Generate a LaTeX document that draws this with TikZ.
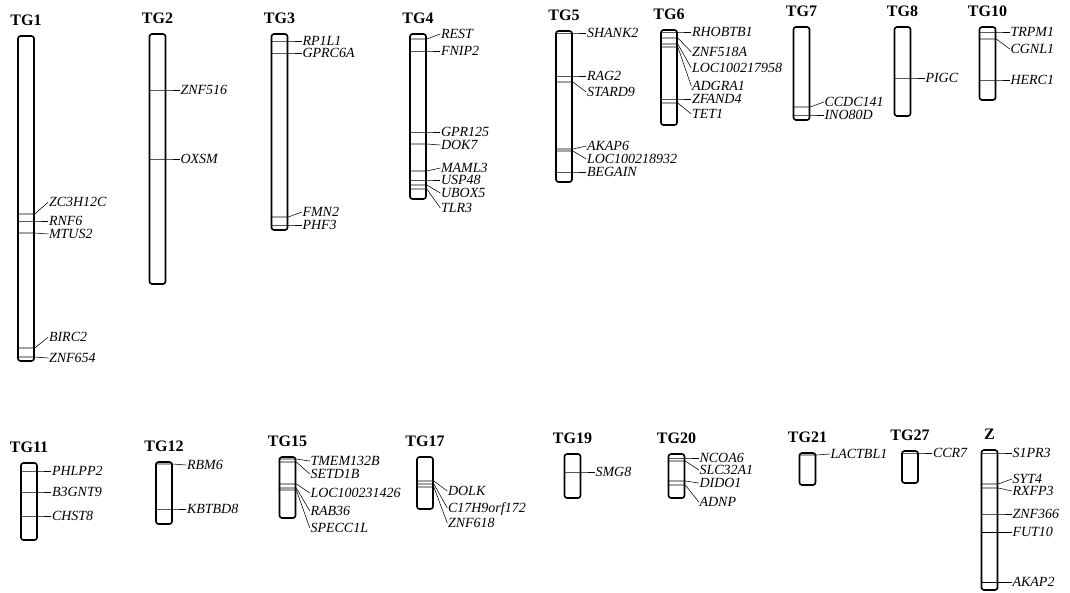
\documentclass[tikz,border=0pt]{standalone}
\usepackage{fontspec}
\setmainfont{Liberation Serif}
\usepackage{tikz}
\usetikzlibrary{positioning}

% band lines and gene labels of one chromosome
\newcommand{\genemarks}[2]{%
  \foreach \b/\l/\g in {#2}{%
    \node[gene, xshift=13.5pt] (#1-\g) at (#1.east |- 0,\l) {\g};
    \draw[band] (#1.west |- 0,\b) -- (#1.east |- 0,\b) -- (#1-\g.west);
  }}

\begin{document}
\begin{tikzpicture}[x=1pt, y=-1pt]
        \tikzset{chrom/.style={draw, line width=1.6pt, rounded corners=2.5pt, minimum width=16pt, inner sep=0pt}}
        \tikzset{band/.style={line width=0.55pt}}
        \tikzset{gene/.style={font=\fontsize{14}{14}\selectfont\itshape, inner sep=0.5pt, text height=9.3pt, text depth=0pt, anchor=west}}
        \tikzset{chrtitle/.style={font=\fontsize{16}{16}\selectfont\bfseries, inner sep=0pt, text depth=0pt}}

        \useasboundingbox (0,0) rectangle (1070,592);

        % upper row
        \node[chrom, minimum height=325pt] (tg1) at (26,198.5) {};
        \node[chrom, minimum height=250pt] (tg2) at (157.5,159) {};
        \node[chrom, minimum height=196pt] (tg3) at (279.5,132) {};
        \node[chrom, minimum height=165pt] (tg4) at (418,116.5) {};
        \node[chrom, minimum height=151pt] (tg5) at (564,106.5) {};
        \node[chrom, minimum height=95pt] (tg6) at (669,77.5) {};
        \node[chrom, minimum height=93pt] (tg7) at (801.5,73.5) {};
        \node[chrom, minimum height=89pt] (tg8) at (902.5,71.5) {};
        \node[chrom, minimum height=73pt] (tg10) at (987.5,63.5) {};

        % lower row
        \node[chrom, minimum height=77pt] (tg11) at (29,501.5) {};
        \node[chrom, minimum height=62pt] (tg12) at (164,493) {};
        \node[chrom, minimum height=61pt] (tg15) at (287.5,487.5) {};
        \node[chrom, minimum height=52pt] (tg17) at (425,483) {};
        \node[chrom, minimum height=44pt] (tg19) at (572.5,476) {};
        \node[chrom, minimum height=44pt] (tg20) at (676.5,476) {};
        \node[chrom, minimum height=32pt] (tg21) at (807.5,469) {};
        \node[chrom, minimum height=32pt] (tg27) at (910,467) {};
        \node[chrom, minimum height=140pt] (z) at (989.5,520) {};

        \foreach \c/\t in {tg1/TG1, tg2/TG2, tg3/TG3, tg4/TG4, tg5/TG5, tg6/TG6, tg7/TG7, tg8/TG8, tg10/TG10,
                           tg11/TG11, tg12/TG12, tg15/TG15, tg17/TG17, tg19/TG19, tg20/TG20, tg21/TG21, tg27/TG27, z/Z}
            \node[chrtitle, above=9.5pt of \c] (\c-title) {\t};

        \genemarks{tg1}{214/202/ZC3H12C, 221/221/RNF6, 233/234/MTUS2, 348/337/BIRC2, 357/358/ZNF654}
        \genemarks{tg2}{90/90/ZNF516, 159/159/OXSM}
        \genemarks{tg3}{41/41/RP1L1, 53/53/GPRC6A, 217/212/FMN2, 225/225/PHF3}
        \genemarks{tg4}{39/34/REST, 51/51/FNIP2, 132/132/GPR125, 144/145/DOK7, 171/168/MAML3, 180/180/USP48, 185/193/UBOX5, 189/208/TLR3}
        \genemarks{tg5}{33/33/SHANK2, 76/76/RAG2, 82/92/STARD9, 149/146/AKAP6, 151/159/LOC100218932, 172/172/BEGAIN}
        \genemarks{tg6}{32/32/RHOBTB1, 38/52/ZNF518A, 44/68/LOC100217958, 47/86/ADGRA1, 99/99/ZFAND4, 103/114/TET1}
        \genemarks{tg7}{107/102/CCDC141, 115/115/INO80D}
        \genemarks{tg8}{78/78/PIGC}
        \genemarks{tg10}{32/32/TRPM1, 39/49/CGNL1, 80/80/HERC1}
        \genemarks{tg11}{471/471/PHLPP2, 492/492/B3GNT9, 516/516/CHST8}
        \genemarks{tg12}{464/465/RBM6, 509/509/KBTBD8}
        \genemarks{tg15}{459/461/TMEM132B, 462/474/SETD1B, 484/493/LOC100231426, 488/511/RAB36, 490/528/SPECC1L}
        \genemarks{tg17}{481/491/DOLK, 484/508/C17H9orf172, 487/523/ZNF618}
        \genemarks{tg19}{472/472/SMG8}
        \genemarks{tg20}{458/458/NCOA6, 461/470/SLC32A1, 481/483/DIDO1, 485/502/ADNP}
        \genemarks{tg21}{455/454/LACTBL1}
        \genemarks{tg27}{453/453/CCR7}
        \genemarks{z}{453/453/S1PR3, 484/479/SYT4, 488/491/RXFP3, 514/514/ZNF366, 532/532/FUT10, 582/582/AKAP2}
    \end{tikzpicture}
\end{document}
